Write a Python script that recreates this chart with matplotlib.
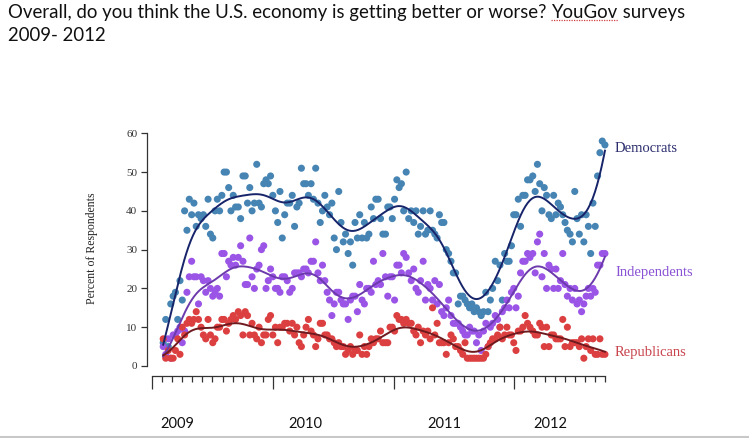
import numpy as np
import pandas as pd
import matplotlib
matplotlib.use("Agg")
import matplotlib.pyplot as plt
from matplotlib.lines import Line2D

# weekly YouGov surveys, Feb 2009 - Sep 2012 (percent saying "getting better")
poll_dates = pd.date_range("2009-02-04", "2012-10-01", periods=190)

democrats = [
    6, 12, 5, 16, 18, 19, 12, 22, 17, 40, 35, 43, 39, 42, 36, 39, 38, 39, 36, 43,
    34, 33, 40, 43, 40, 44, 50, 50, 46, 40, 44, 41, 41, 38, 49, 49, 42, 46, 40, 42,
    52, 42, 41, 47, 48, 47, 49, 44, 40, 37, 45, 33, 39, 42, 42, 44, 36, 41, 42, 51,
    47, 47, 44, 47, 43, 51, 42, 37, 40, 44, 41, 39, 42, 33, 30, 45, 37, 32, 34, 29,
    32, 26, 37, 33, 39, 33, 37, 33, 34, 41, 38, 43, 43, 38, 34, 34, 41, 41, 38, 43,
    48, 46, 47, 40, 50, 38, 40, 37, 40, 34, 36, 40, 34, 35, 40, 35, 34, 33, 39, 37,
    37, 30, 29, 27, 24, 24, 16, 18, 18, 17, 16, 15, 16, 14, 15, 14, 13, 14, 19, 14,
    17, 20, 27, 22, 26, 17, 29, 27, 27, 31, 39, 39, 43, 36, 44, 44, 48, 48, 49, 45,
    52, 47, 40, 46, 44, 39, 38, 44, 39, 42, 41, 39, 37, 35, 34, 32, 45, 38, 34, 39,
    32, 39, 36, 29, 42, 36, 49, 55, 58, 57,
]

independents = [
    5, 3, 7, 2, 8, 8, 9, 10, 6, 9, 19, 23, 27, 23, 23, 16, 23, 22, 19, 22,
    20, 18, 19, 20, 18, 29, 29, 23, 27, 26, 28, 26, 28, 31, 27, 21, 21, 33, 23, 20,
    25, 26, 30, 31, 20, 22, 25, 23, 20, 20, 19, 23, 23, 22, 19, 20, 24, 24, 24, 23,
    25, 25, 24, 27, 27, 32, 24, 22, 26, 22, 19, 17, 13, 16, 19, 19, 17, 16, 16, 12,
    17, 18, 18, 14, 21, 17, 16, 20, 20, 19, 27, 21, 22, 21, 29, 23, 18, 23, 23, 17,
    26, 26, 24, 29, 28, 24, 22, 25, 20, 19, 22, 27, 17, 21, 20, 17, 22, 16, 21, 14,
    13, 15, 17, 13, 11, 11, 11, 10, 9, 8, 8, 10, 9, 9, 6, 8, 4, 9, 11, 5,
    10, 11, 13, 12, 10, 14, 15, 17, 15, 19, 20, 15, 18, 24, 27, 27, 29, 28, 29, 24,
    32, 34, 23, 29, 20, 26, 25, 20, 25, 20, 22, 29, 21, 18, 20, 17, 20, 16, 17, 14,
    16, 18, 20, 18, 20, 19, 26, 26, 29, 29,
]

republicans = [
    7, 2, 4, 2, 2, 4, 7, 3, 10, 8, 11, 12, 11, 12, 14, 12, 10, 8, 7, 12,
    8, 6, 7, 10, 10, 12, 12, 9, 11, 12, 13, 12, 14, 13, 8, 14, 13, 8, 11, 8,
    7, 10, 6, 8, 8, 12, 13, 8, 10, 6, 10, 10, 11, 11, 9, 11, 8, 10, 6, 5,
    8, 10, 12, 9, 8, 5, 7, 11, 11, 8, 8, 7, 7, 6, 5, 6, 5, 5, 3, 4,
    5, 3, 4, 4, 8, 3, 5, 3, 5, 7, 6, 7, 7, 9, 6, 6, 6, 10, 10, 9,
    13, 12, 12, 11, 12, 11, 11, 9, 8, 10, 6, 9, 8, 9, 7, 15, 8, 11, 6, 6,
    6, 3, 6, 8, 7, 5, 5, 4, 3, 6, 2, 2, 2, 2, 2, 2, 2, 2, 3, 5,
    6, 7, 7, 8, 10, 7, 8, 10, 8, 8, 6, 4, 9, 9, 10, 13, 11, 10, 9, 8,
    8, 11, 10, 5, 10, 5, 8, 8, 7, 7, 7, 12, 5, 10, 5, 6, 6, 6, 5, 7,
    2, 5, 7, 4, 7, 3, 3, 7, 3, 3,
]

series_names = ["Democrats", "Independents", "Republicans"]
label_values = [56.2, 24.0, 3.4]
point_colors = ["#4684b3", "#9a55e6", "#dc3f40"]
line_colors = ["#17246a", "#6c3aac", "#6e1a1e"]
label_colors = ["#2b2d6e", "#8a52d4", "#c8434c"]

# months since Jan 2009
x = np.array([(d.year - 2009) * 12 + d.month - 1 + (d.day - 1) / d.days_in_month
              for d in poll_dates])


def loess_line(xv, yv, bw=1.3):
    # local linear fit with gaussian weights
    grid = np.linspace(xv.min(), xv.max(), 400)
    out = []
    for x0 in grid:
        w = np.exp(-0.5 * ((xv - x0) / bw) ** 2)
        X = np.vstack([np.ones_like(xv), xv - x0]).T
        XtW = X.T * w
        beta = np.linalg.solve(XtW @ X, XtW @ yv)
        out.append(beta[0])
    return grid, np.array(out)


fig = plt.figure(figsize=(7.49, 4.38), dpi=100)
ax = fig.add_axes([0.1963, 0.1416, 0.6181, 0.5662])

for vals, pc, lc in zip([democrats, independents, republicans], point_colors, line_colors):
    vals = np.array(vals, dtype=float)
    ax.scatter(x, vals, s=26, color=pc, edgecolors="none", zorder=2)
    gx, gy = loess_line(x, vals)
    ax.plot(gx, gy, color=lc, lw=1.4, zorder=3)

for name, v, c in zip(series_names, label_values, label_colors):
    ax.text(46.0, v, name, color=c, fontsize=10.5, family="Liberation Serif",
            va="center", ha="left", clip_on=False)

ax.set_xlim(-0.5, 45.5)
ax.set_ylim(-2.58, 61.37)

for s in ["top", "right"]:
    ax.spines[s].set_visible(False)
ax.spines["left"].set_bounds(0, 60)
ax.spines["bottom"].set_bounds(0, 45)
for s in ["left", "bottom"]:
    ax.spines[s].set_color("#333333")
    ax.spines[s].set_linewidth(0.9)

ax.set_yticks([0, 10, 20, 30, 40, 50, 60])
ax.tick_params(axis="y", length=4, width=0.9, color="#333333", labelsize=8,
               labelcolor="#333333", pad=3)
for lab in ax.get_yticklabels():
    lab.set_family("Liberation Serif")

ax.set_xticks([0, 12, 24, 36])
ax.set_xticks(range(0, 46), minor=True)
ax.tick_params(axis="x", which="major", length=9.5, width=0.9, color="#333333",
               labelbottom=False)
ax.tick_params(axis="x", which="minor", length=4.3, width=0.9, color="#333333")

fig.text(92 / 749, 1 - 248 / 438, "Percent of Respondents", rotation=90,
         family="Liberation Serif", fontsize=8.5, color="#222222",
         ha="center", va="center")

# year labels under the axis
year_labels = ["2009", "2010", "2011", "2012"]
year_px = [177, 305, 444, 550]
for lab, px in zip(year_labels, year_px):
    fig.text(px / 749, 1 - 424 / 438, lab, family="Lato", fontsize=10.5,
             ha="center", va="center", color="#111111")

# title
tsize = 13.4
t1 = fig.text(8 / 749, 1 - 4 / 438,
              "Overall, do you think the U.S. economy is getting better or worse? ",
              family="Lato", fontsize=tsize, va="top", ha="left", color="#111111")
fig.canvas.draw()
r = fig.canvas.get_renderer()
bb = t1.get_window_extent(r)
t2 = fig.text(bb.x1 / 749, 1 - 4 / 438, "YouGov", family="Lato", fontsize=tsize,
              va="top", ha="left", color="#111111")
bb2 = t2.get_window_extent(r)
t3 = fig.text(bb2.x1 / 749, 1 - 4 / 438, " surveys", family="Lato", fontsize=tsize,
              va="top", ha="left", color="#111111")
fig.add_artist(Line2D([bb2.x0 / 749, bb2.x1 / 749], [(bb2.y0 + 1) / 438] * 2,
                      color="#d04040", lw=0.9, ls=(0, (1, 1))))
fig.text(8 / 749, 1 - 27 / 438, "2009- 2012", family="Lato", fontsize=tsize,
         va="top", ha="left", color="#111111")

fig.add_artist(Line2D([0, 1], [0.003, 0.003], color="#c8c8c8", lw=1.5))

fig.savefig("out.png", dpi=100)
